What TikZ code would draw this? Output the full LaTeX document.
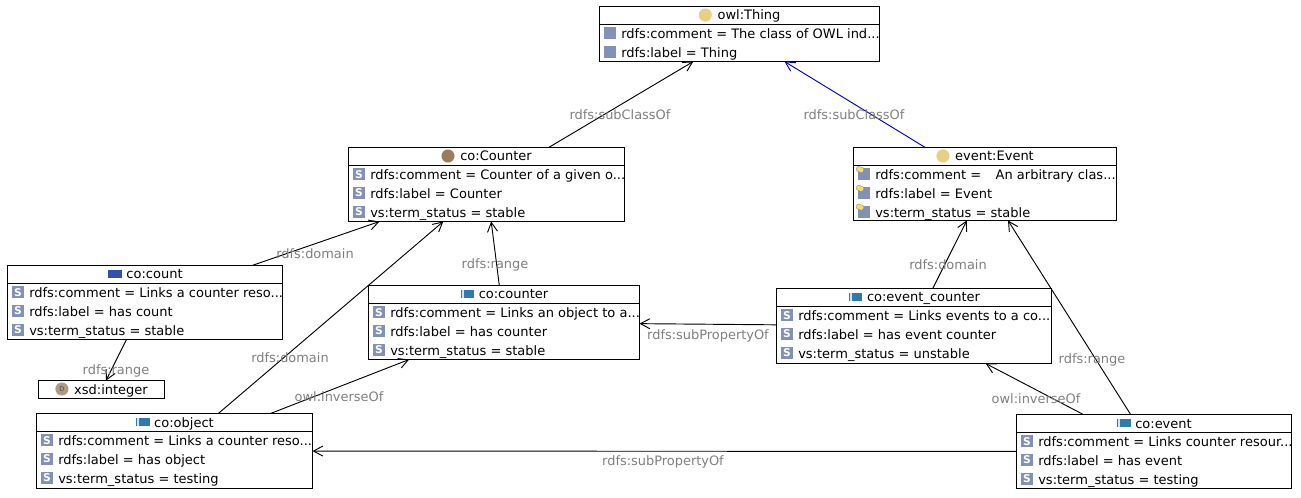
\documentclass[tikz,border=0pt]{standalone}
\usepackage{fontspec}
\setmainfont{DejaVu Sans}
\usetikzlibrary{arrows.meta,calc}
\definecolor{edgegray}{HTML}{808080}
\definecolor{attrblue}{HTML}{8291B5}
\definecolor{thingtan}{HTML}{E8CF85}
\definecolor{counterbrown}{HTML}{9A7B5E}
\definecolor{dtbrown}{HTML}{B09A84}
\definecolor{propblue}{HTML}{2F7BAE}
\definecolor{countblue}{HTML}{3350A8}
\definecolor{linkblue}{HTML}{0000C8}
\definecolor{keyyellow}{HTML}{F2DC6A}
\tikzset{
  x=0.75pt,y=-0.75pt,
  box/.style={draw=black,line width=0.75pt,fill=white,inner sep=0pt,outer sep=0pt,rectangle},
  rowtext/.style={font=\fontsize{9.75pt}{12pt}\selectfont,text=black,inner sep=0pt,anchor=base west},
  titletext/.style={font=\fontsize{9.75pt}{12pt}\selectfont,text=black,inner sep=0pt,text height=8pt,text depth=2pt},
  edge/.style={draw=black,line width=0.7pt,-{Straight Barb[length=7pt,width=7.5pt,line width=0.7pt]}},
  bluedge/.style={edge,draw=linkblue},
  edgelabel/.style={font=\fontsize{9.7pt}{12pt}\selectfont,text=edgegray,inner sep=0pt,text height=8.5pt,text depth=2pt},
  sicon/.style={fill=attrblue,minimum size=9pt,inner sep=0pt,text=white,font=\fontsize{8pt}{8pt}\selectfont\bfseries,rectangle},
  plainicon/.style={fill=attrblue,minimum size=9pt,inner sep=0pt,rectangle},
  keymark/.style={fill=keyyellow,draw=black!50,line width=0.2pt,rectangle,rounded corners=1pt,minimum width=5.5pt,minimum height=3.8pt,inner sep=0pt,rotate=-20},
  propicon/.style={fill=propblue,minimum width=10pt,minimum height=6.5pt,inner sep=0pt,rectangle},
  stripmark/.style={fill=white!80!propblue,minimum width=1.5pt,minimum height=5.5pt,inner sep=0pt,rectangle},
  counticon/.style={fill=countblue,minimum width=10pt,minimum height=6.5pt,inner sep=0pt,rectangle},
  dot/.style={circle,minimum size=9.8pt,inner sep=0pt},
}
% name, x1, y1, x2, y2
\newcommand{\classbox}[5]{%
  \node[box,anchor=north west,minimum width=#4*0.75pt-#2*0.75pt,minimum height=#5*0.75pt-#3*0.75pt] (#1) at (#2,#3) {};
  \draw[black,line width=0.75pt] ($(#1.north west)+(0,18)$) -- ($(#1.north east)+(0,18)$);
}
% box, title text
\newcommand{\classtitle}[2]{%
  \node[titletext,anchor=base] (#1-title) at ($(#1.north)+(9.5,13.5)$) {#2};
}
% box, row, text
\newcommand{\rowlabel}[3]{%
  \node[rowtext] (#1-t#2) at ($(#1.north west)+(21.5,{32+(#2-1)*18.8})$) {#3};
}
\newcommand{\sattr}[3]{%
  \node[sicon] (#1-i#2) at ($(#1.north west)+(10.5,{26.8+(#2-1)*18.8})$) {S};
  \rowlabel{#1}{#2}{#3}
}
\newcommand{\pattr}[3]{%
  \node[plainicon] (#1-i#2) at ($(#1.north west)+(10.5,{26.8+(#2-1)*18.8})$) {};
  \rowlabel{#1}{#2}{#3}
}
\newcommand{\kattr}[3]{%
  \node[plainicon] (#1-i#2) at ($(#1.north west)+(10.5,{26.8+(#2-1)*18.8})$) {};
  \node[keymark] (#1-k#2) at ($(#1.north west)+(6.5,{22+(#2-1)*18.8})$) {};
  \rowlabel{#1}{#2}{#3}
}
\newcommand{\dotset}[2]{\node[dot,fill=#2] (#1-icon) at ($(#1-title.west)+(-12,-1)$) {};}
\newcommand{\propset}[1]{%
  \node[propicon] (#1-icon) at ($(#1-title.west)+(-11,-1)$) {};
  \node[stripmark] (#1-strip) at ($(#1-icon.west)+(2,0)$) {};
}
\begin{document}
\begin{tikzpicture}
\useasboundingbox[fill=white] (0,0) rectangle (1301,498);
\classbox{thing}{599.5}{6.5}{879.5}{61.5}
\classbox{counter}{348.5}{147.5}{624.5}{221.5}
\classbox{eventcl}{853.5}{147.5}{1116.5}{220.5}
\classbox{count}{7.5}{265.5}{282.5}{339.5}
\classbox{cocounter}{368.5}{285.5}{639.5}{359.5}
\classbox{evcounter}{776.5}{288.5}{1051.5}{363.5}
\classbox{coevent}{1016.5}{414.5}{1291.5}{488.5}
\classbox{object}{36.5}{413.5}{312.5}{488.5}
\node[box,anchor=north west,minimum width=94.5pt,minimum height=13.5pt] (xsd) at (38.5,380.5) {};
% titles
\classtitle{thing}{owl:Thing}\dotset{thing}{thingtan}
\classtitle{counter}{co:Counter}\dotset{counter}{counterbrown}
\classtitle{eventcl}{event:Event}\dotset{eventcl}{thingtan}
\classtitle{count}{co:count}
\node[counticon] (count-icon) at ($(count-title.west)+(-11,-1)$) {};
\classtitle{cocounter}{co:counter}\propset{cocounter}
\classtitle{evcounter}{co:event\_counter}\propset{evcounter}
\classtitle{coevent}{co:event}\propset{coevent}
\classtitle{object}{co:object}\propset{object}
\node[titletext,anchor=base] (xsd-title) at ($(xsd.north)+(9.5,13.5)$) {xsd:integer};
\node[dot,fill=dtbrown,text=black!70,font=\fontsize{5pt}{5pt}\selectfont] (xsd-icon) at ($(xsd-title.west)+(-12,-1)$) {D};
% rows
\pattr{thing}{1}{rdfs:comment = The class of OWL ind...}
\pattr{thing}{2}{rdfs:label = Thing}
\sattr{counter}{1}{rdfs:comment = Counter of a given o...}
\sattr{counter}{2}{rdfs:label = Counter}
\sattr{counter}{3}{vs:term\_status = stable}
\kattr{eventcl}{1}{rdfs:comment =\hspace{1.12em}An arbitrary clas...}
\kattr{eventcl}{2}{rdfs:label = Event}
\kattr{eventcl}{3}{vs:term\_status = stable}
\sattr{count}{1}{rdfs:comment = Links a counter reso...}
\sattr{count}{2}{rdfs:label = has count}
\sattr{count}{3}{vs:term\_status = stable}
\sattr{cocounter}{1}{rdfs:comment = Links an object to a...}
\sattr{cocounter}{2}{rdfs:label = has counter}
\sattr{cocounter}{3}{vs:term\_status = stable}
\sattr{evcounter}{1}{rdfs:comment = Links events to a co...}
\sattr{evcounter}{2}{rdfs:label = has event counter}
\sattr{evcounter}{3}{vs:term\_status = unstable}
\sattr{coevent}{1}{rdfs:comment = Links counter resour...}
\sattr{coevent}{2}{rdfs:label = has event}
\sattr{coevent}{3}{vs:term\_status = testing}
\sattr{object}{1}{rdfs:comment = Links a counter reso...}
\sattr{object}{2}{rdfs:label = has object}
\sattr{object}{3}{vs:term\_status = testing}
% connectors
\draw[edge] (counter) -- (thing);
\draw[bluedge] (eventcl) -- (thing);
\draw[edge] (count) -- (counter);
\draw[edge] (count) -- (xsd);
\draw[edge] (object) -- (counter);
\draw[edge] (object) -- (cocounter);
\draw[edge] (cocounter) -- (counter);
\draw[edge] (evcounter) -- (cocounter);
\draw[edge] (evcounter) -- (eventcl);
\draw[edge] (coevent) -- (eventcl);
\draw[edge] (coevent) -- (evcounter);
\draw[edge] (coevent) -- (object);
% labels
\node[edgelabel] (l1) at (620,115) {rdfs:subClassOf};
\node[edgelabel] (l2) at (854,115) {rdfs:subClassOf};
\node[edgelabel] (l3) at (315,254) {rdfs:domain};
\node[edgelabel] (l4) at (495,264) {rdfs:range};
\node[edgelabel] (l5) at (948,265) {rdfs:domain};
\node[edgelabel] (l6) at (708,335) {rdfs:subPropertyOf};
\node[edgelabel] (l7) at (290,358) {rdfs:domain};
\node[edgelabel] (l8) at (116,370) {rdfs:range};
\node[edgelabel] (l9) at (339,397) {owl:inverseOf};
\node[edgelabel] (l10) at (1036,399) {owl:inverseOf};
\node[edgelabel] (l11) at (1092,359) {rdfs:range};
\node[edgelabel] (l12) at (663,461) {rdfs:subPropertyOf};
\end{tikzpicture}
\end{document}
